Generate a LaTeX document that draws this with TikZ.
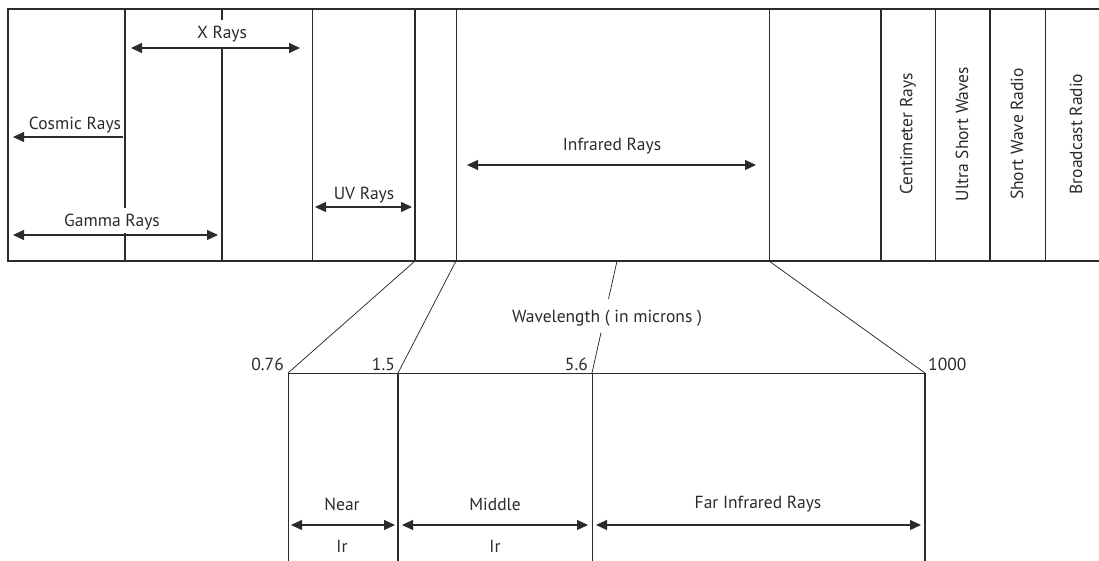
\documentclass[tikz,border=0pt]{standalone}
\usepackage{fontspec}
\setmainfont{PT Sans}
\usetikzlibrary{arrows.meta,calc}
\definecolor{ink}{HTML}{2B2B2B}
\begin{document}
\begin{tikzpicture}[x=1pt,y=-1pt,
  thickln/.style={draw=ink,line width=1.4pt},
  thinln/.style={draw=ink,line width=0.75pt},
  tip/.tip={Triangle[length=11pt,width=10pt]},
  dbl/.style={draw=ink,line width=1.1pt,{tip}-{tip}},
  lft/.style={draw=ink,line width=1.1pt,{tip}-},
  lbl/.style={text=ink,font=\fontsize{17.5}{20}\selectfont,inner sep=1pt},
  vlbl/.style={lbl,rotate=90}]
\useasboundingbox (0,0) rectangle (1099,561);
\fill[white] (0,0) rectangle (1099,561);
% ---------- top band ----------
\draw[thickln] (1099,9) -- (8,9) -- (8,261) -- (1099,261);
\draw[thickln] (125,9) -- (125,208);
\draw[thickln] (125,233) -- (125,261);
\draw[thickln] (222,9) -- (222,20);
\draw[thickln] (222,48) -- (222,261);
\draw[thinln] (312,9) -- (312,261);
\draw[thickln] (415,9) -- (415,261);
\draw[thinln] (456,9) -- (456,261);
\draw[thinln] (769,9) -- (769,261);
\draw[thickln] (881,9) -- (881,261);
\draw[thinln] (935,9) -- (935,261);
\draw[thickln] (990,9) -- (990,261);
\draw[thinln] (1045,9) -- (1045,261);
% labels top
\node[lbl] (xr) at (222,34) {X Rays};
\node[lbl] (cr) at (75,125) {Cosmic Rays};
\node[lbl] (gr) at (112,222) {Gamma Rays};
\node[lbl] (uv) at (364,195) {UV Rays};
\node[lbl] (ir) at (612,146) {Infrared Rays};
\node[vlbl] (cm) at (908,134) {Centimeter Rays};
\node[vlbl] (us) at (962,134) {Ultra Short Waves};
\node[vlbl] (sw) at (1017,134) {Short Wave Radio};
\node[vlbl] (br) at (1076,134) {Broadcast Radio};
% arrows top
\coordinate (xa) at (131,48); \coordinate (xb) at (300,48);
\coordinate (ca) at (123,137); \coordinate (cb) at (13,137);
\coordinate (ga) at (13,235); \coordinate (gb) at (218,235);
\coordinate (ua) at (315,207); \coordinate (ub) at (412,207);
\coordinate (ia) at (467,165); \coordinate (ib) at (756,165);
\draw[dbl] (xa) -- (xb);
\draw[lft] (cb) -- (ca);
\draw[dbl] (ga) -- (gb);
\draw[dbl] (ua) -- (ub);
\draw[dbl] (ia) -- (ib);
% ---------- zoom lines ----------
\coordinate (t1) at (415,261); \coordinate (b1) at (288,373);
\coordinate (t2) at (456,261); \coordinate (b2) at (398,373);
\coordinate (t3) at (617,261); \coordinate (b3) at (592,373);
\coordinate (t4) at (769,261); \coordinate (b4) at (925,373);
\draw[thinln] (t1) -- (b1);
\draw[thinln] (t2) -- (b2);
\draw[thinln] (t3) -- ($(t3)!0.34!(b3)$);
\draw[thinln] ($(t3)!0.64!(b3)$) -- (b3);
\draw[thinln] (t4) -- (b4);
\node[lbl] (wl) at (607,318) {Wavelength ( in microns )};
% ---------- lower band ----------
\draw[thinln] (b1) -- (b4);
\draw[thinln] (b1) -- (288,561);
\draw[thickln] (b2) -- (398,561);
\draw[thinln] (b3) -- (592,561);
\draw[thickln] (b4) -- (925,561);
\node[lbl,anchor=base east] (n1) at (285,370) {0.76};
\node[lbl,anchor=base east] (n2) at (396,370) {1.5};
\node[lbl,anchor=base east] (n3) at (589,370) {5.6};
\node[lbl,anchor=base west] (n4) at (927,370) {1000};
\node[lbl] (near) at (342,504) {Near};
\node[lbl] (ir1) at (342,546) {Ir};
\node[lbl] (mid) at (495,504) {Middle};
\node[lbl] (ir2) at (495,546) {Ir};
\node[lbl] (far) at (758,504) {Far Infrared Rays};
\coordinate (na) at (291,525); \coordinate (nb) at (395,525);
\coordinate (ma) at (402,525); \coordinate (mb) at (588,525);
\coordinate (fa) at (596,525); \coordinate (fb) at (921,525);
\draw[dbl] (na) -- (nb);
\draw[dbl] (ma) -- (mb);
\draw[dbl] (fa) -- (fb);
\end{tikzpicture}
\end{document}
